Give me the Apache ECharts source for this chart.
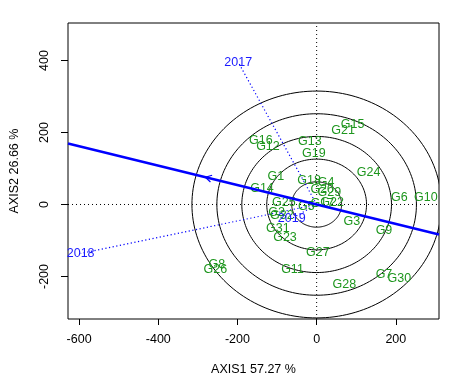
<!DOCTYPE html>
<html><head><meta charset="utf-8">
<script src="https://cdn.jsdelivr.net/npm/echarts@6/dist/echarts.min.js"></script>
<style>html,body{margin:0;padding:0;background:#fff}#c{width:473px;height:391px}</style>
</head><body><div id="c"></div>
<script>
// Genotype scores (AXIS1, AXIS2)
const genotypes = ['G1','G2','G3','G4','G5','G6','G7','G8','G9','G10','G11','G12','G13','G14','G15','G16','G17','G18','G19','G20','G21','G22','G23','G24','G25','G26','G27','G28','G29','G30','G31','G32'];
const genoX = [-103,-101,89,24,-26,209,170,-252,170,276,-61,-123,-17,-138,91,-141,14,-19,-7,14,67,39,-80,131,-83,-256,3,70,32,209,-98,-88];
const genoY = [77,-21,-46,60,-5,18,-194,-166,-73,18,-181,162,176,44,222,177,4,66,142,42,204,6,-92,89,6,-181,-134,-221,34,-207,-67,-30];
// Environment (year) vectors
const years = ['2017','2018','2019'];
const yearX = [-198,-596,-63];
const yearY = [395,-136,-39];
// Average-environment axis end points and arrow position
const atcX = [-628, 309];
const atcY = [169.4, -83.4];
const arrowTip = [-281, 75.8];
// Concentric circle radii
const circleRadii = [63,126,189,252,315];
// Tick values
const xTicks = [-600,-400,-200,0,200];
const yTicks = [-200,0,200,400];

const FONT = '"Liberation Sans", Arial, sans-serif';
const chart = echarts.init(document.getElementById('c'));
const series = [];

series.push({
  type:'custom', clip:true, z:2,
  data: circleRadii.map(r=>[r]),
  renderItem: function(params, api){
    const r = api.value(0);
    const pts = [];
    for (let a=0; a<=360; a+=2){
      const t = a*Math.PI/180;
      pts.push(api.coord([r*Math.cos(t), r*Math.sin(t)]));
    }
    return {type:'polyline', shape:{points:pts}, style:{stroke:'#000', fill:null, lineWidth:1}};
  }
});
series.push({type:'line', symbol:'none', silent:true, z:3, data:[[-628,0],[309,0]], lineStyle:{color:'#000', width:1, type:[1,3]}});
series.push({type:'line', symbol:'none', silent:true, z:3, data:[[0,-318],[0,504]], lineStyle:{color:'#000', width:1, type:[1,3]}});
years.forEach((y,i)=>{
  series.push({type:'line', symbol:'none', silent:true, z:3, data:[[0,0],[yearX[i],yearY[i]]], lineStyle:{color:'#0000ff', width:1.2, type:[1.2,2.5]}});
});
series.push({
  type:'custom', z:4,
  data: genotypes.map((g,i)=>[genoX[i], genoY[i]]),
  renderItem: function(params, api){
    const p = api.coord([api.value(0), api.value(1)]);
    return {type:'text', x:p[0], y:p[1], style:{text:genotypes[params.dataIndex], align:'center', verticalAlign:'middle', fill:'#1e961e', fontSize:12.5, fontFamily:FONT}};
  }
});
series.push({
  type:'custom', z:4,
  data: years.map((y,i)=>[yearX[i], yearY[i]]),
  renderItem: function(params, api){
    const p = api.coord([api.value(0), api.value(1)]);
    return {type:'text', x:p[0], y:p[1], style:{text:years[params.dataIndex], align:'center', verticalAlign:'middle', fill:'#1a1aff', fontSize:12.5, fontFamily:FONT}};
  }
});
series.push({type:'line', symbol:'none', silent:true, z:5, data:[[atcX[0],atcY[0]],[atcX[1],atcY[1]]], lineStyle:{color:'#0000ff', width:2.4}});
series.push({
  type:'custom', z:6,
  data:[arrowTip],
  renderItem: function(params, api){
    const tip = api.coord([api.value(0), api.value(1)]);
    const o = api.coord([0,0]);
    let dx=o[0]-tip[0], dy=o[1]-tip[1];
    const L=Math.hypot(dx,dy); dx/=L; dy/=L;
    const len=7, ang=30*Math.PI/180;
    const rot=(s)=>[tip[0]+len*(dx*Math.cos(s)-dy*Math.sin(s)), tip[1]+len*(dx*Math.sin(s)+dy*Math.cos(s))];
    return {type:'polyline', shape:{points:[rot(ang), tip, rot(-ang)]}, style:{stroke:'#0000ff', fill:null, lineWidth:1.2}};
  }
});

chart.setOption({
  animation:false,
  backgroundColor:'#fff',
  grid:{left:64, top:23, right:34, bottom:72, show:true, borderColor:'#000', borderWidth:1, backgroundColor:'transparent'},
  xAxis:{type:'value', min:-628, max:309,
    name:'AXIS1 57.27 %', nameLocation:'middle', nameGap:44,
    nameTextStyle:{color:'#000', fontSize:12.5, fontFamily:FONT},
    axisLine:{show:false, onZero:false},
    axisTick:{show:true, customValues:xTicks, length:6, lineStyle:{color:'#000'}},
    axisLabel:{customValues:xTicks, color:'#000', fontSize:12.5, fontFamily:FONT, margin:14},
    splitLine:{show:false}},
  yAxis:{type:'value', min:-318, max:504,
    name:'AXIS2 26.66 %', nameLocation:'middle', nameGap:47, nameRotate:90,
    nameTextStyle:{color:'#000', fontSize:12.5, fontFamily:FONT},
    axisLine:{show:false, onZero:false},
    axisTick:{show:true, customValues:yTicks, length:7, lineStyle:{color:'#000'}},
    axisLabel:{customValues:yTicks, rotate:90, color:'#000', fontSize:12.5, fontFamily:FONT, margin:17},
    splitLine:{show:false}},
  series: series
});
</script></body></html>
